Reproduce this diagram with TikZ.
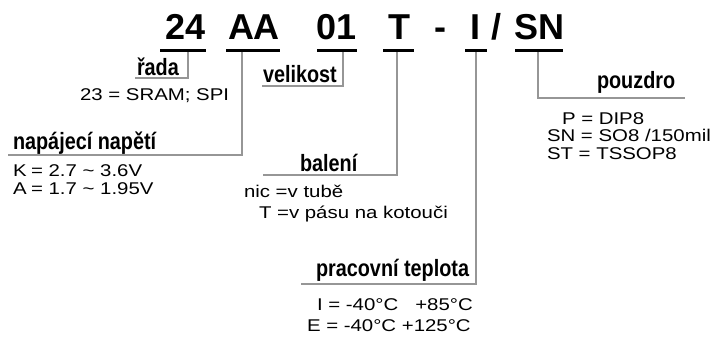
\documentclass[tikz,border=0pt]{standalone}
\usepackage{fontspec}
\setmainfont{Liberation Sans}
\newfontfamily\codefont{Liberation Sans Bold}
\newfontfamily\headfont[FakeStretch=0.84]{Liberation Sans Bold}
\newfontfamily\valfont[FakeStretch=1.2]{Liberation Sans}
\definecolor{conngray}{RGB}{150,150,150}
\tikzset{
  code/.style={anchor=base west,inner sep=0pt,outer sep=0pt,font=\codefont\fontsize{36}{40}\selectfont},
  head/.style={anchor=base west,inner sep=0pt,outer sep=0pt,font=\headfont\fontsize{23.6}{28}\selectfont},
  val/.style={anchor=base west,inner sep=0pt,outer sep=0pt,font=\valfont\fontsize{17}{20}\selectfont},
  uline/.style={line width=3pt,black},
  conn/.style={line width=1.1pt,conngray},
}
\begin{document}
\begin{tikzpicture}[x=1pt,y=-1pt]
\useasboundingbox (0,0) rectangle (716,340);
% code
\node[code] (c24) at (165,39) {24};
\node[code] (cAA) at (228,39) {AA};
\node[code] (c01) at (316,39) {01};
\node[code] (cT) at (388,39) {T};
\node[code] (cdash) at (434,39) {-};
\node[code] (cI) at (470,39) {I};
\node[code] (cslash) at (491,39) {/};
\node[code] (cSN) at (514,39) {SN};
% underline coordinates
\coordinate (a1) at (160,50); \coordinate (a2) at (206,50); \coordinate (j24) at (188,50);
\coordinate (b1) at (226,50); \coordinate (b2) at (280,50); \coordinate (jAA) at (242,50);
\coordinate (d1) at (317,50); \coordinate (d2) at (357,50); \coordinate (j01) at (343,50);
\coordinate (e1) at (383,50); \coordinate (e2) at (414,50); \coordinate (jT) at (397,50);
\coordinate (f1) at (465,50); \coordinate (f2) at (487,50); \coordinate (jI) at (476,50);
\coordinate (g1) at (515,50); \coordinate (g2) at (563,50); \coordinate (jSN) at (538,50);
% label line ends
\coordinate (k24) at (135,78);
\coordinate (kAA) at (8,155);
\coordinate (k01) at (262,86);
\coordinate (kT) at (263,175);
\coordinate (kI) at (301,284);
\coordinate (kSN) at (685,98);
% connectors
\draw[conn] (j24) |- (k24);
\draw[conn] (jAA) |- (kAA);
\draw[conn] (j01) |- (k01);
\draw[conn] (jT) |- (kT);
\draw[conn] (jI) |- (kI);
\draw[conn] (jSN) |- (kSN);
% underlines
\draw[uline] (a1) -- (a2);
\draw[uline] (b1) -- (b2);
\draw[uline] (d1) -- (d2);
\draw[uline] (e1) -- (e2);
\draw[uline] (f1) -- (f2);
\draw[uline] (g1) -- (g2);
% headings
\node[head] (hrada) at (137,75) {řada};
\node[head] (hnap) at (13,149) {napájecí napětí};
\node[head] (hvel) at (263,82) {velikost};
\node[head] (hbal) at (300,171) {balení};
\node[head] (hprac) at (316,276) {pracovní teplota};
\node[head] (hpouz) at (597,88) {pouzdro};
% values
\node[val] (v23) at (80,100) {23 = SRAM; SPI};
\node[val] (vK) at (13,176) {K};
\node[val] (vKv) at (31,176) {= 2.7 \char`\~{} 3.6V};
\node[val] (vA) at (13,194) {A};
\node[val] (vAv) at (31,194) {= 1.7 \char`\~{} 1.95V};
\node[val] (vnic) at (244,197) {nic =v tubě};
\node[val] (vTp) at (259,218) {T =v pásu na kotouči};
\node[val] (vI) at (317,310) {I = -40°C \ \ +85°C};
\node[val] (vE) at (307,331) {E = -40°C +125°C};
\node[val] (vP) at (562,124) {P = DIP8};
\node[val] (vSN) at (547,141) {SN = SO8 /150mil};
\node[val] (vST) at (547,159) {ST = TSSOP8};
\end{tikzpicture}
\end{document}
